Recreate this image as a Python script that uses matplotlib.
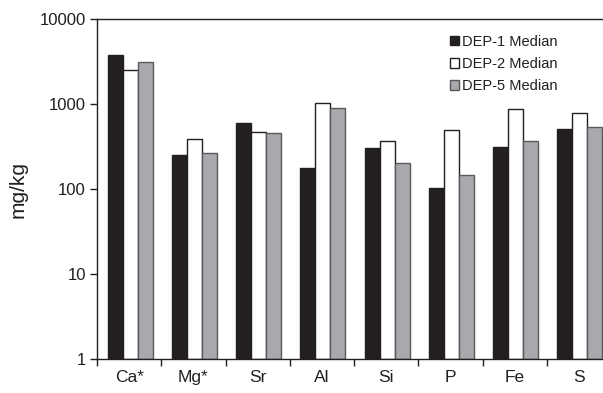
import matplotlib
matplotlib.use("Agg")
import matplotlib.pyplot as plt
import numpy as np
from matplotlib.ticker import FixedLocator, NullLocator, FixedFormatter

plt.rcParams['font.family'] = ['Liberation Sans', 'DejaVu Sans']

categories = ["Ca*", "Mg*", "Sr", "Al", "Si", "P", "Fe", "S"]
dep1 = [3770, 251, 593, 178, 306, 101, 309, 508]
dep2 = [2510, 385, 472, 1018, 370, 494, 866, 777]
dep5 = [3150, 263, 452, 890, 200, 146, 367, 532]
series_names = ["DEP-1 Median", "DEP-2 Median", "DEP-5 Median"]
yticks = [1, 10, 100, 1000, 10000]
ytick_labels = ["1", "10", "100", "1000", "10000"]

W, H = 603, 393
fig = plt.figure(figsize=(W / 100, H / 100), dpi=100)
ax = fig.add_axes([97 / W, (H - 359) / H, (611 - 97) / W, (359 - 19) / H])

x = np.arange(len(categories))
w = 0.233
styles = [
    dict(color="#231f20", edgecolor="#231f20"),
    dict(color="white", edgecolor="#231f20"),
    dict(color="#a7a9ac", edgecolor="#58595b"),
]
for k, (vals, name, st) in enumerate(zip([dep1, dep2, dep5], series_names, styles)):
    ax.bar(x + (k - 1) * w + 0.015, vals, width=w, bottom=1, label=name,
           linewidth=1.0, **st)

ax.set_yscale("log")
ax.set_ylim(1, 10000)
ax.set_xlim(-0.5, len(categories) - 0.5)
ax.yaxis.set_major_locator(FixedLocator(yticks))
ax.yaxis.set_major_formatter(FixedFormatter(ytick_labels))
ax.yaxis.set_minor_locator(NullLocator())

ax.xaxis.set_major_locator(FixedLocator(np.arange(len(categories) + 1) - 0.5))
ax.xaxis.set_major_formatter(FixedFormatter([""] * (len(categories) + 1)))
ax.xaxis.set_minor_locator(FixedLocator(x))
ax.xaxis.set_minor_formatter(FixedFormatter(categories))
ax.tick_params(axis="x", which="major", direction="out", length=5, width=1, color="#231f20")
ax.tick_params(axis="x", which="minor", length=0, labelsize=12.5, pad=8, labelcolor="#231f20")
ax.tick_params(axis="y", which="major", direction="out", length=5, width=1, color="#231f20",
               labelsize=12, labelcolor="#231f20", pad=3)

for s in ax.spines.values():
    s.set_color("#231f20")
    s.set_linewidth(1.0)

ax.set_ylabel("mg/kg", fontsize=15, color="#231f20", labelpad=9)

leg = ax.legend(loc="upper left", bbox_to_anchor=(450 / W, 1 - 35 / H), bbox_transform=fig.transFigure,
                frameon=False, fontsize=10.5, handlelength=0.6, handleheight=0.6,
                handletextpad=0.25, labelspacing=0.55, borderpad=0, borderaxespad=0)
for t in leg.get_texts():
    t.set_color("#231f20")

fig.savefig("out.png", dpi=100)
